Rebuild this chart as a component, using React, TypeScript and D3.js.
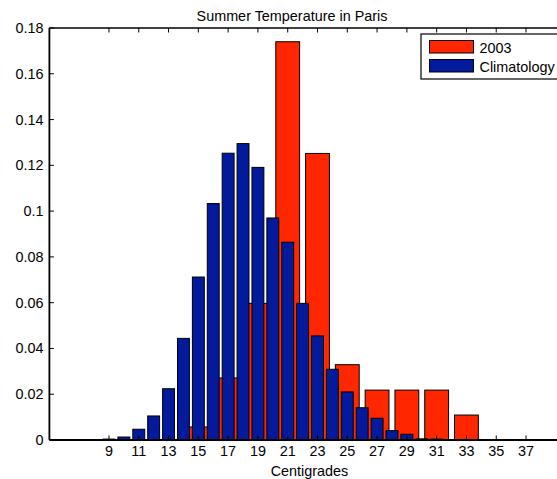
import React from "react";
import * as d3 from "d3";

// Data
const climTemps = [9, 10, 11, 12, 13, 14, 15, 16, 17, 18, 19, 20, 21, 22, 23, 24, 25, 26, 27, 28, 29, 30, 31, 32, 33, 34, 35, 36, 37];
const climValues = [0.0004, 0.0013, 0.0047, 0.0105, 0.0224, 0.0444, 0.0712, 0.1033, 0.1253, 0.1295, 0.1191, 0.097, 0.0864, 0.0597, 0.0455, 0.0309, 0.021, 0.0141, 0.0095, 0.0041, 0.0025, 0.0005, 0.0004, 0, 0, 0, 0, 0, 0];
const y2003Temps = [9, 11, 13, 15, 17, 19, 21, 23, 25, 27, 29, 31, 33, 35, 37];
const y2003Values = [0, 0, 0, 0.0057, 0.0271, 0.0597, 0.174, 0.1252, 0.0329, 0.0218, 0.0218, 0.0218, 0.0109, 0, 0];
const xTicks = [9, 11, 13, 15, 17, 19, 21, 23, 25, 27, 29, 31, 33, 35, 37];
const yTicks = [0, 0.02, 0.04, 0.06, 0.08, 0.1, 0.12, 0.14, 0.16, 0.18];
const legendLabels = ["2003", "Climatology"];
const title = "Summer Temperature in Paris";
const xLabel = "Centigrades";

const RED = "#ff2600";
const BLUE = "#031a9c";
const FONT = "'Liberation Sans', Arial, Helvetica, sans-serif";

export default function App() {
  const W = 557, H = 479;
  const x = d3.scaleLinear().domain([5, 40]).range([49.4, 570.7]);
  const y = d3.scaleLinear().domain([0, 0.18]).range([440, 28]);
  const x0 = x(5), x1 = x(40), yTop = y(0.18), yBot = y(0);
  const fmt = (v: number) => String(+v.toFixed(2));
  const wRed = x(1.6) - x(0);
  const wBlue = x(0.8) - x(0);
  const tick = 4.5;
  const fs = 14.4;

  return (
    <svg width={W} height={H} style={{ position: "absolute", left: 0, top: 0, background: "#fff" }} fontFamily={FONT}>
      <rect x={0} y={0} width={W} height={H} fill="#fff" />
      {/* 2003 bars */}
      {y2003Temps.map((t, i) => (
        <rect key={"r" + i} x={x(t) - wRed / 2} y={y(y2003Values[i])} width={wRed}
          height={yBot - y(y2003Values[i])} fill={RED} stroke="#000" strokeWidth={1} />
      ))}
      {/* Climatology bars */}
      {climTemps.map((t, i) => (
        <rect key={"b" + i} x={x(t) - wBlue / 2} y={y(climValues[i])} width={wBlue}
          height={yBot - y(climValues[i])} fill={BLUE} stroke="#000" strokeWidth={1} />
      ))}
      {/* axes box */}
      <line x1={x0} x2={x1} y1={yTop} y2={yTop} stroke="#000" strokeWidth={1.3} />
      <line x1={x0} x2={x1} y1={yBot} y2={yBot} stroke="#000" strokeWidth={1.8} />
      <line x1={x0} x2={x0} y1={yTop} y2={yBot} stroke="#000" strokeWidth={1.8} />
      <line x1={x1} x2={x1} y1={yTop} y2={yBot} stroke="#000" strokeWidth={1.3} />
      {/* x ticks */}
      {xTicks.map((t) => (
        <g key={"xt" + t}>
          <line x1={x(t)} x2={x(t)} y1={yBot} y2={yBot - tick} stroke="#000" strokeWidth={1} />
          <line x1={x(t)} x2={x(t)} y1={yTop} y2={yTop + tick} stroke="#000" strokeWidth={1} />
          <text x={x(t)} y={456} textAnchor="middle" fontSize={fs} fill="#000">{t}</text>
        </g>
      ))}
      {/* y ticks */}
      {yTicks.map((v) => (
        <g key={"yt" + v}>
          <line x1={x0} x2={x0 + tick} y1={y(v)} y2={y(v)} stroke="#000" strokeWidth={1} />
          <text x={43.5} y={y(v) + 5} textAnchor="end" fontSize={fs} fill="#000">{fmt(v)}</text>
        </g>
      ))}
      {/* title & label */}
      <text x={292} y={21} textAnchor="middle" fontSize={fs} fill="#000">{title}</text>
      <text x={309.5} y={476} textAnchor="middle" fontSize={fs} fill="#000">{xLabel}</text>
      {/* legend */}
      <g>
        <rect x={421} y={34} width={142} height={45} fill="#fff" stroke="#000" strokeWidth={1.2} />
        <rect x={429.5} y={40.5} width={44} height={12.5} fill={RED} stroke="#000" strokeWidth={1} />
        <rect x={429.5} y={59.5} width={44} height={12.5} fill={BLUE} stroke="#000" strokeWidth={1} />
        <text x={479.5} y={52.5} fontSize={fs} fill="#000">{legendLabels[0]}</text>
        <text x={479.5} y={71.5} fontSize={fs} fill="#000">{legendLabels[1]}</text>
      </g>
    </svg>
  );
}
